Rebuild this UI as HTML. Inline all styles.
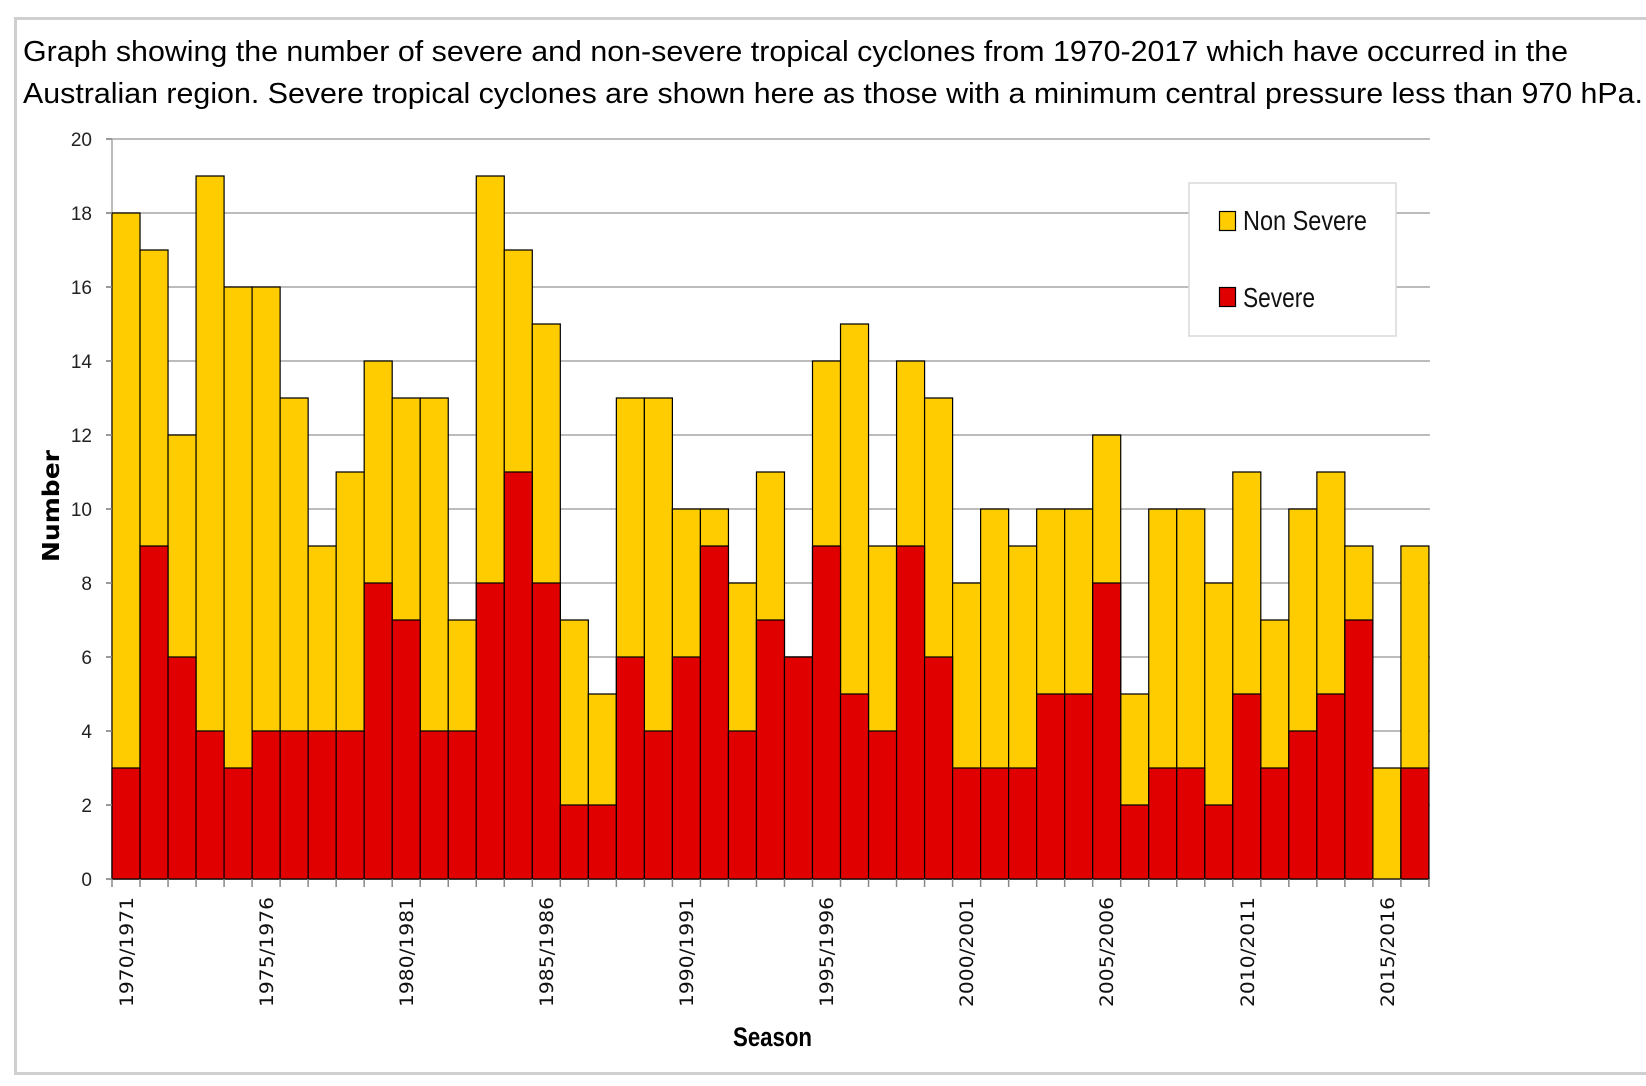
<!DOCTYPE html>
<html><head><meta charset="utf-8"><style>
html,body{margin:0;padding:0;background:#fff;}
svg{display:block;}
</style></head><body>
<svg width="1646" height="1086" viewBox="0 0 1646 1086" xmlns="http://www.w3.org/2000/svg">
<rect x="0" y="0" width="1646" height="1086" fill="#fff"/>
<!-- frame -->
<rect x="14" y="17" width="1640" height="3" fill="#cfcfcf"/>
<rect x="14" y="17" width="3" height="1058" fill="#cfcfcf"/>
<rect x="14" y="1072" width="1640" height="3" fill="#cfcfcf"/>
<g font-family="Liberation Sans, Arial, sans-serif" font-size="29" fill="#000">
<text x="23" y="61" textLength="1545" lengthAdjust="spacingAndGlyphs">Graph showing the number of severe and non-severe tropical cyclones from 1970-2017 which have occurred in the</text>
<text x="23" y="103" textLength="1620" lengthAdjust="spacingAndGlyphs">Australian region. Severe tropical cyclones are shown here as those with a minimum central pressure less than 970 hPa.</text>
</g>
<!-- gridlines -->
<g stroke="#a6a6a6" stroke-width="1.5">
<line x1="106" x2="1430" y1="139" y2="139"/>
<line x1="106" x2="1430" y1="213" y2="213"/>
<line x1="106" x2="1430" y1="287" y2="287"/>
<line x1="106" x2="1430" y1="361" y2="361"/>
<line x1="106" x2="1430" y1="435" y2="435"/>
<line x1="106" x2="1430" y1="509" y2="509"/>
<line x1="106" x2="1430" y1="583" y2="583"/>
<line x1="106" x2="1430" y1="657" y2="657"/>
<line x1="106" x2="1430" y1="731" y2="731"/>
<line x1="106" x2="1430" y1="805" y2="805"/>
<line x1="106" x2="1430" y1="879" y2="879"/>
<line x1="112" x2="112" y1="139" y2="879"/>
</g>
<!-- y tick labels -->
<g font-family="Liberation Sans, Arial, sans-serif" font-size="19" fill="#222" text-anchor="end">
<text x="92" y="146">20</text><text x="92" y="220">18</text><text x="92" y="294">16</text><text x="92" y="368">14</text><text x="92" y="442">12</text><text x="92" y="516">10</text><text x="92" y="590">8</text><text x="92" y="664">6</text><text x="92" y="738">4</text><text x="92" y="812">2</text><text x="92" y="886">0</text>
</g>
<!-- bars -->
<g transform="translate(112,879) scale(28.02,-37)" stroke="#000" stroke-width="1.2">
<g fill="#FFCC00">
<rect vector-effect="non-scaling-stroke" x="0" y="0" width="1" height="18"/>
<rect vector-effect="non-scaling-stroke" x="1" y="0" width="1" height="17"/>
<rect vector-effect="non-scaling-stroke" x="2" y="0" width="1" height="12"/>
<rect vector-effect="non-scaling-stroke" x="3" y="0" width="1" height="19"/>
<rect vector-effect="non-scaling-stroke" x="4" y="0" width="1" height="16"/>
<rect vector-effect="non-scaling-stroke" x="5" y="0" width="1" height="16"/>
<rect vector-effect="non-scaling-stroke" x="6" y="0" width="1" height="13"/>
<rect vector-effect="non-scaling-stroke" x="7" y="0" width="1" height="9"/>
<rect vector-effect="non-scaling-stroke" x="8" y="0" width="1" height="11"/>
<rect vector-effect="non-scaling-stroke" x="9" y="0" width="1" height="14"/>
<rect vector-effect="non-scaling-stroke" x="10" y="0" width="1" height="13"/>
<rect vector-effect="non-scaling-stroke" x="11" y="0" width="1" height="13"/>
<rect vector-effect="non-scaling-stroke" x="12" y="0" width="1" height="7"/>
<rect vector-effect="non-scaling-stroke" x="13" y="0" width="1" height="19"/>
<rect vector-effect="non-scaling-stroke" x="14" y="0" width="1" height="17"/>
<rect vector-effect="non-scaling-stroke" x="15" y="0" width="1" height="15"/>
<rect vector-effect="non-scaling-stroke" x="16" y="0" width="1" height="7"/>
<rect vector-effect="non-scaling-stroke" x="17" y="0" width="1" height="5"/>
<rect vector-effect="non-scaling-stroke" x="18" y="0" width="1" height="13"/>
<rect vector-effect="non-scaling-stroke" x="19" y="0" width="1" height="13"/>
<rect vector-effect="non-scaling-stroke" x="20" y="0" width="1" height="10"/>
<rect vector-effect="non-scaling-stroke" x="21" y="0" width="1" height="10"/>
<rect vector-effect="non-scaling-stroke" x="22" y="0" width="1" height="8"/>
<rect vector-effect="non-scaling-stroke" x="23" y="0" width="1" height="11"/>
<rect vector-effect="non-scaling-stroke" x="24" y="0" width="1" height="6"/>
<rect vector-effect="non-scaling-stroke" x="25" y="0" width="1" height="14"/>
<rect vector-effect="non-scaling-stroke" x="26" y="0" width="1" height="15"/>
<rect vector-effect="non-scaling-stroke" x="27" y="0" width="1" height="9"/>
<rect vector-effect="non-scaling-stroke" x="28" y="0" width="1" height="14"/>
<rect vector-effect="non-scaling-stroke" x="29" y="0" width="1" height="13"/>
<rect vector-effect="non-scaling-stroke" x="30" y="0" width="1" height="8"/>
<rect vector-effect="non-scaling-stroke" x="31" y="0" width="1" height="10"/>
<rect vector-effect="non-scaling-stroke" x="32" y="0" width="1" height="9"/>
<rect vector-effect="non-scaling-stroke" x="33" y="0" width="1" height="10"/>
<rect vector-effect="non-scaling-stroke" x="34" y="0" width="1" height="10"/>
<rect vector-effect="non-scaling-stroke" x="35" y="0" width="1" height="12"/>
<rect vector-effect="non-scaling-stroke" x="36" y="0" width="1" height="5"/>
<rect vector-effect="non-scaling-stroke" x="37" y="0" width="1" height="10"/>
<rect vector-effect="non-scaling-stroke" x="38" y="0" width="1" height="10"/>
<rect vector-effect="non-scaling-stroke" x="39" y="0" width="1" height="8"/>
<rect vector-effect="non-scaling-stroke" x="40" y="0" width="1" height="11"/>
<rect vector-effect="non-scaling-stroke" x="41" y="0" width="1" height="7"/>
<rect vector-effect="non-scaling-stroke" x="42" y="0" width="1" height="10"/>
<rect vector-effect="non-scaling-stroke" x="43" y="0" width="1" height="11"/>
<rect vector-effect="non-scaling-stroke" x="44" y="0" width="1" height="9"/>
<rect vector-effect="non-scaling-stroke" x="45" y="0" width="1" height="3"/>
<rect vector-effect="non-scaling-stroke" x="46" y="0" width="1" height="9"/>
</g>
<g fill="#E00000">
<rect vector-effect="non-scaling-stroke" x="0" y="0" width="1" height="3"/>
<rect vector-effect="non-scaling-stroke" x="1" y="0" width="1" height="9"/>
<rect vector-effect="non-scaling-stroke" x="2" y="0" width="1" height="6"/>
<rect vector-effect="non-scaling-stroke" x="3" y="0" width="1" height="4"/>
<rect vector-effect="non-scaling-stroke" x="4" y="0" width="1" height="3"/>
<rect vector-effect="non-scaling-stroke" x="5" y="0" width="1" height="4"/>
<rect vector-effect="non-scaling-stroke" x="6" y="0" width="1" height="4"/>
<rect vector-effect="non-scaling-stroke" x="7" y="0" width="1" height="4"/>
<rect vector-effect="non-scaling-stroke" x="8" y="0" width="1" height="4"/>
<rect vector-effect="non-scaling-stroke" x="9" y="0" width="1" height="8"/>
<rect vector-effect="non-scaling-stroke" x="10" y="0" width="1" height="7"/>
<rect vector-effect="non-scaling-stroke" x="11" y="0" width="1" height="4"/>
<rect vector-effect="non-scaling-stroke" x="12" y="0" width="1" height="4"/>
<rect vector-effect="non-scaling-stroke" x="13" y="0" width="1" height="8"/>
<rect vector-effect="non-scaling-stroke" x="14" y="0" width="1" height="11"/>
<rect vector-effect="non-scaling-stroke" x="15" y="0" width="1" height="8"/>
<rect vector-effect="non-scaling-stroke" x="16" y="0" width="1" height="2"/>
<rect vector-effect="non-scaling-stroke" x="17" y="0" width="1" height="2"/>
<rect vector-effect="non-scaling-stroke" x="18" y="0" width="1" height="6"/>
<rect vector-effect="non-scaling-stroke" x="19" y="0" width="1" height="4"/>
<rect vector-effect="non-scaling-stroke" x="20" y="0" width="1" height="6"/>
<rect vector-effect="non-scaling-stroke" x="21" y="0" width="1" height="9"/>
<rect vector-effect="non-scaling-stroke" x="22" y="0" width="1" height="4"/>
<rect vector-effect="non-scaling-stroke" x="23" y="0" width="1" height="7"/>
<rect vector-effect="non-scaling-stroke" x="24" y="0" width="1" height="6"/>
<rect vector-effect="non-scaling-stroke" x="25" y="0" width="1" height="9"/>
<rect vector-effect="non-scaling-stroke" x="26" y="0" width="1" height="5"/>
<rect vector-effect="non-scaling-stroke" x="27" y="0" width="1" height="4"/>
<rect vector-effect="non-scaling-stroke" x="28" y="0" width="1" height="9"/>
<rect vector-effect="non-scaling-stroke" x="29" y="0" width="1" height="6"/>
<rect vector-effect="non-scaling-stroke" x="30" y="0" width="1" height="3"/>
<rect vector-effect="non-scaling-stroke" x="31" y="0" width="1" height="3"/>
<rect vector-effect="non-scaling-stroke" x="32" y="0" width="1" height="3"/>
<rect vector-effect="non-scaling-stroke" x="33" y="0" width="1" height="5"/>
<rect vector-effect="non-scaling-stroke" x="34" y="0" width="1" height="5"/>
<rect vector-effect="non-scaling-stroke" x="35" y="0" width="1" height="8"/>
<rect vector-effect="non-scaling-stroke" x="36" y="0" width="1" height="2"/>
<rect vector-effect="non-scaling-stroke" x="37" y="0" width="1" height="3"/>
<rect vector-effect="non-scaling-stroke" x="38" y="0" width="1" height="3"/>
<rect vector-effect="non-scaling-stroke" x="39" y="0" width="1" height="2"/>
<rect vector-effect="non-scaling-stroke" x="40" y="0" width="1" height="5"/>
<rect vector-effect="non-scaling-stroke" x="41" y="0" width="1" height="3"/>
<rect vector-effect="non-scaling-stroke" x="42" y="0" width="1" height="4"/>
<rect vector-effect="non-scaling-stroke" x="43" y="0" width="1" height="5"/>
<rect vector-effect="non-scaling-stroke" x="44" y="0" width="1" height="7"/>
<rect vector-effect="non-scaling-stroke" x="46" y="0" width="1" height="3"/>
</g>
</g>
<!-- y ticks -->
<path d="M106 139H112M106 213H112M106 287H112M106 361H112M106 435H112M106 509H112M106 583H112M106 657H112M106 731H112M106 805H112M106 879H112" stroke="#888" stroke-width="1.5"/>
<!-- x ticks -->
<g transform="translate(112,879) scale(28.02,1)" stroke="#888" stroke-width="1.5">
<path vector-effect="non-scaling-stroke" d="M0 0V8M1 0V8M2 0V8M3 0V8M4 0V8M5 0V8M6 0V8M7 0V8M8 0V8M9 0V8M10 0V8M11 0V8M12 0V8M13 0V8M14 0V8M15 0V8M16 0V8M17 0V8M18 0V8M19 0V8M20 0V8M21 0V8M22 0V8M23 0V8M24 0V8M25 0V8M26 0V8M27 0V8M28 0V8M29 0V8M30 0V8M31 0V8M32 0V8M33 0V8M34 0V8M35 0V8M36 0V8M37 0V8M38 0V8M39 0V8M40 0V8M41 0V8M42 0V8M43 0V8M44 0V8M45 0V8M46 0V8M47 0V8"/>
</g>
<!-- x labels -->
<g font-family="DejaVu Sans, Verdana, sans-serif" font-size="19" fill="#111">
<text transform="translate(133,1007) rotate(-90)" textLength="110" lengthAdjust="spacingAndGlyphs">1970/1971</text>
<text transform="translate(273,1007) rotate(-90)" textLength="110" lengthAdjust="spacingAndGlyphs">1975/1976</text>
<text transform="translate(413,1007) rotate(-90)" textLength="110" lengthAdjust="spacingAndGlyphs">1980/1981</text>
<text transform="translate(553,1007) rotate(-90)" textLength="110" lengthAdjust="spacingAndGlyphs">1985/1986</text>
<text transform="translate(693,1007) rotate(-90)" textLength="110" lengthAdjust="spacingAndGlyphs">1990/1991</text>
<text transform="translate(833,1007) rotate(-90)" textLength="110" lengthAdjust="spacingAndGlyphs">1995/1996</text>
<text transform="translate(973,1007) rotate(-90)" textLength="110" lengthAdjust="spacingAndGlyphs">2000/2001</text>
<text transform="translate(1113,1007) rotate(-90)" textLength="110" lengthAdjust="spacingAndGlyphs">2005/2006</text>
<text transform="translate(1254,1007) rotate(-90)" textLength="110" lengthAdjust="spacingAndGlyphs">2010/2011</text>
<text transform="translate(1394,1007) rotate(-90)" textLength="110" lengthAdjust="spacingAndGlyphs">2015/2016</text>
</g>
<!-- axis titles -->
<text transform="translate(59,562) rotate(-90)" font-family="DejaVu Sans, Verdana, sans-serif" font-weight="bold" font-size="23" fill="#000" textLength="112" lengthAdjust="spacingAndGlyphs">Number</text>
<text x="733" y="1046" font-family="Liberation Sans, Arial, sans-serif" font-weight="bold" font-size="27" fill="#000" textLength="79" lengthAdjust="spacingAndGlyphs">Season</text>
<!-- legend -->
<rect x="1189" y="183" width="207" height="153" fill="#fff" stroke="#d9d9d9" stroke-width="1.5"/>
<rect x="1219.5" y="211.5" width="16" height="19" fill="#FFCC00" stroke="#000" stroke-width="1.2"/>
<rect x="1219.5" y="287.5" width="16" height="19" fill="#E00000" stroke="#000" stroke-width="1.2"/>
<g font-family="Liberation Sans, Arial, sans-serif" font-size="28" fill="#111">
<text x="1243" y="230" textLength="124" lengthAdjust="spacingAndGlyphs">Non Severe</text>
<text x="1243" y="307" textLength="72" lengthAdjust="spacingAndGlyphs">Severe</text>
</g>
</svg>
</body></html>
